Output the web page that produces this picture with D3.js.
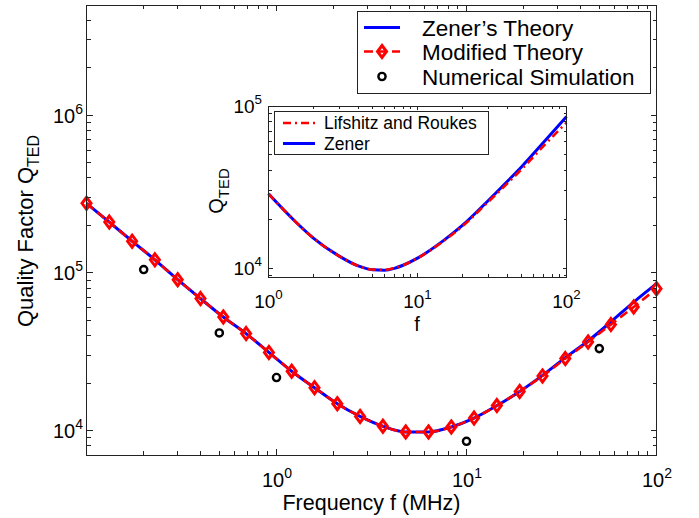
<!DOCTYPE html>
<html><head><meta charset="utf-8">
<script src="https://cdn.jsdelivr.net/npm/d3@7/dist/d3.min.js"></script>
<style>
html,body{margin:0;padding:0;background:#fff;}
svg{display:block;font-family:"Liberation Sans",Arial,Helvetica,sans-serif;}
</style></head>
<body><svg id="c" width="699" height="518"></svg>
<script>
// ---- main plot data ----
const freq = [0.1, 0.1318, 0.1738, 0.2291, 0.302, 0.3981, 0.5248, 0.6918, 0.912, 1.202,
  1.585, 2.089, 2.754, 3.631, 4.786, 6.31, 8.318, 10.96, 14.45, 19.05,
  25.12, 33.11, 43.65, 57.54, 75.86, 100];
const zenerQ = [2.76e5, 2.10e5, 1.59e5, 1.21e5, 9.06e4, 6.87e4, 5.25e4, 4.12e4, 3.13e4, 2.38e4,
  1.87e4, 1.48e4, 1.23e4, 1.065e4, 9.8e3, 9.8e3, 1.054e4, 1.20e4, 1.44e4, 1.77e4,
  2.24e4, 2.90e4, 3.70e4, 4.89e4, 6.53e4, 8.55e4];
const modifiedQ = [2.76e5, 2.10e5, 1.59e5, 1.21e5, 9.06e4, 6.87e4, 5.25e4, 4.12e4, 3.13e4, 2.38e4,
  1.87e4, 1.48e4, 1.23e4, 1.065e4, 9.8e3, 9.8e3, 1.054e4, 1.20e4, 1.44e4, 1.77e4,
  2.22e4, 2.86e4, 3.65e4, 4.70e4, 6.08e4, 7.94e4];
const simF = [0.2, 0.5, 1, 10, 50];
const simQ = [1.05e5, 4.16e4, 2.17e4, 8.55e3, 3.31e4];
const legendLabels = ["Zener\u2019s Theory", "Modified Theory", "Numerical Simulation"];
const xTickExp = [-1, 0, 1, 2];
const yTickExp = [4, 5, 6];

// ---- inset data ----
const insetF = [1, 1.5, 2, 3, 4, 5, 6, 7, 8, 10, 15, 20, 30, 40, 50, 70, 100];
const insetZener = [2.87e4, 1.95e4, 1.53e4, 1.18e4, 1.03e4, 9.75e3, 9.7e3, 9.95e3, 1.04e4, 1.15e4,
  1.48e4, 1.83e4, 2.62e4, 3.42e4, 4.22e4, 5.95e4, 8.6e4];
const insetLR = [2.87e4, 1.95e4, 1.53e4, 1.18e4, 1.03e4, 9.78e3, 9.75e3, 9.98e3, 1.04e4, 1.15e4,
  1.47e4, 1.81e4, 2.57e4, 3.32e4, 4.07e4, 5.65e4, 7.9e4];
const insetLegend = ["Lifshitz and Roukes", "Zener"];
const insetXTickExp = [0, 1, 2];
const insetYTickExp = [4, 5];

const BLUE = "#0000ff", RED = "#ff0000", AX = "#222";
const svg = d3.select("#c");

function logAxes(g, x, y, opt) {
  const [x0, x1] = x.range(), [y0, y1] = y.range();
  const frame = g.append("g");
  const xt = x.ticks(), yt = y.ticks();
  const isMajor = v => Math.abs(Math.log10(v) - Math.round(Math.log10(v))) < 1e-6;
  xt.forEach(v => {
    const px = x(v), L = isMajor(v) ? opt.major : opt.minor;
    if (px < x0 + 0.5 || px > x1 - 0.5) return;
    frame.append("line").attr("x1", px).attr("x2", px).attr("y1", y0).attr("y2", y0 - L);
    frame.append("line").attr("x1", px).attr("x2", px).attr("y1", y1).attr("y2", y1 + L);
  });
  yt.forEach(v => {
    const py = y(v), L = isMajor(v) ? opt.major : opt.minor;
    if (py > y0 - 0.5 || py < y1 + 0.5) return;
    frame.append("line").attr("x1", x0).attr("x2", x0 + L).attr("y1", py).attr("y2", py);
    frame.append("line").attr("x1", x1).attr("x2", x1 - L).attr("y1", py).attr("y2", py);
  });
  frame.append("rect").attr("x", x0).attr("y", y1).attr("width", x1 - x0).attr("height", y0 - y1)
    .attr("fill", "none");
  frame.selectAll("line,rect").attr("stroke", AX).attr("stroke-width", 1).attr("shape-rendering", "crispEdges");
}

function powLabel(g, x, y, exp, size, anchor) {
  const t = g.append("text").attr("x", x).attr("y", y).attr("text-anchor", anchor)
    .attr("font-size", size).attr("fill", "#000");
  t.append("tspan").text("10");
  t.append("tspan").attr("font-size", size * 0.7).attr("dy", -size * 0.45).text(exp);
  return t;
}

// ================= MAIN =================
const x = d3.scaleLog().domain([0.1, 100]).range([86.5, 656.5]);
const y = d3.scaleLog().domain([7000, 5e6]).range([455, 5]);
const main = svg.append("g");

const lineGen = (xs, ys, ds) => d3.line().x((d, i) => xs(ds[i])).y(d => ys(d)).curve(d3.curveMonotoneX);

main.append("path").attr("d", lineGen(x, y, freq)(zenerQ))
  .attr("fill", "none").attr("stroke", BLUE).attr("stroke-width", 3);
main.append("path").attr("d", lineGen(x, y, freq)(modifiedQ))
  .attr("fill", "none").attr("stroke", RED).attr("stroke-width", 2.6).attr("stroke-dasharray", "9,5");
const diamond = (cx, cy) => `M${cx},${cy - 6}L${cx + 4.5},${cy}L${cx},${cy + 6}L${cx - 4.5},${cy}Z`;
main.selectAll(".dm").data(modifiedQ).enter().append("path")
  .attr("d", (d, i) => diamond(x(freq[i]), y(d)))
  .attr("fill", "none").attr("stroke", RED).attr("stroke-width", 3);
main.selectAll(".sim").data(simQ).enter().append("circle")
  .attr("cx", (d, i) => x(simF[i])).attr("cy", d => y(d)).attr("r", 3.6)
  .attr("fill", "none").attr("stroke", "#000").attr("stroke-width", 2.4);

logAxes(main, x, y, {major: 6, minor: 4});
xTickExp.forEach(e => { if (e >= 0) powLabel(main, x(Math.pow(10, e)) + 0.5, 486.5, e, 20, "middle"); });
yTickExp.forEach(e => powLabel(main, 83, y(Math.pow(10, e)) + 7.5, e, 20, "end"));

main.append("text").attr("x", 371.5).attr("y", 510).attr("text-anchor", "middle")
  .attr("font-size", 21.5).text("Frequency f (MHz)");
const yl = main.append("text").attr("transform", "translate(33,231) rotate(-90)")
  .attr("text-anchor", "middle").attr("font-size", 22);
yl.append("tspan").text("Quality Factor Q");
yl.append("tspan").attr("font-size", 16).attr("dy", 6).text("TED");

// main legend
const lg = main.append("g");
lg.append("rect").attr("x", 357.5).attr("y", 11.5).attr("width", 293).attr("height", 82)
  .attr("fill", "#fff").attr("stroke", AX).attr("stroke-width", 1);
const rowY = [27.5, 51.5, 76.5], sx0 = 364, sx1 = 400, scx = 382;
lg.append("line").attr("x1", sx0).attr("x2", sx1).attr("y1", rowY[0]).attr("y2", rowY[0])
  .attr("stroke", BLUE).attr("stroke-width", 3);
lg.append("line").attr("x1", sx0).attr("x2", sx1).attr("y1", rowY[1]).attr("y2", rowY[1])
  .attr("stroke", RED).attr("stroke-width", 2.6).attr("stroke-dasharray", "9,5");
lg.append("path").attr("d", diamond(scx, rowY[1])).attr("fill", "none").attr("stroke", RED).attr("stroke-width", 3);
lg.append("circle").attr("cx", scx).attr("cy", rowY[2]).attr("r", 3.6)
  .attr("fill", "none").attr("stroke", "#000").attr("stroke-width", 2.4);
legendLabels.forEach((s, i) => lg.append("text").attr("x", 422).attr("y", rowY[i] + 8)
  .attr("font-size", 22.5).text(s));

// ================= INSET =================
const ix = d3.scaleLog().domain([1, 100]).range([268.5, 566.5]);
const iy = d3.scaleLog().domain([8800, 1e5]).range([277, 106]);
const ins = svg.append("g");
ins.append("rect").attr("x", 268.5).attr("y", 106).attr("width", 298).attr("height", 171).attr("fill", "#fff");
ins.append("path").attr("d", lineGen(ix, iy, insetF)(insetZener))
  .attr("fill", "none").attr("stroke", BLUE).attr("stroke-width", 3);
ins.append("path").attr("d", lineGen(ix, iy, insetF)(insetLR))
  .attr("fill", "none").attr("stroke", RED).attr("stroke-width", 2.6).attr("stroke-dasharray", "8,4,2,4");
logAxes(ins, ix, iy, {major: 4, minor: 3});
insetXTickExp.forEach(e => powLabel(ins, ix(Math.pow(10, e)), 308, e, 19, "middle"));
insetYTickExp.forEach(e => powLabel(ins, 262, iy(Math.pow(10, e)) + 7, e, 19, "end"));
ins.append("text").attr("x", 417).attr("y", 331).attr("text-anchor", "middle").attr("font-size", 20).text("f");
const iyl = ins.append("text").attr("transform", "translate(223,191) rotate(-90)")
  .attr("text-anchor", "middle").attr("font-size", 20);
iyl.append("tspan").text("Q");
iyl.append("tspan").attr("font-size", 15).attr("dy", 6).text("TED");

const ilg = ins.append("g");
ilg.append("rect").attr("x", 274.5).attr("y", 111.5).attr("width", 214).attr("height", 43)
  .attr("fill", "#fff").attr("stroke", AX).attr("stroke-width", 1);
const iRow = [123, 143.5];
ilg.append("line").attr("x1", 283).attr("x2", 315).attr("y1", iRow[0]).attr("y2", iRow[0])
  .attr("stroke", RED).attr("stroke-width", 2.6).attr("stroke-dasharray", "8,4,2,4");
ilg.append("line").attr("x1", 283).attr("x2", 315).attr("y1", iRow[1]).attr("y2", iRow[1])
  .attr("stroke", BLUE).attr("stroke-width", 3);
insetLegend.forEach((s, i) => ilg.append("text").attr("x", 324).attr("y", iRow[i] + 6)
  .attr("font-size", 17.5).text(s));
</script></body></html>
